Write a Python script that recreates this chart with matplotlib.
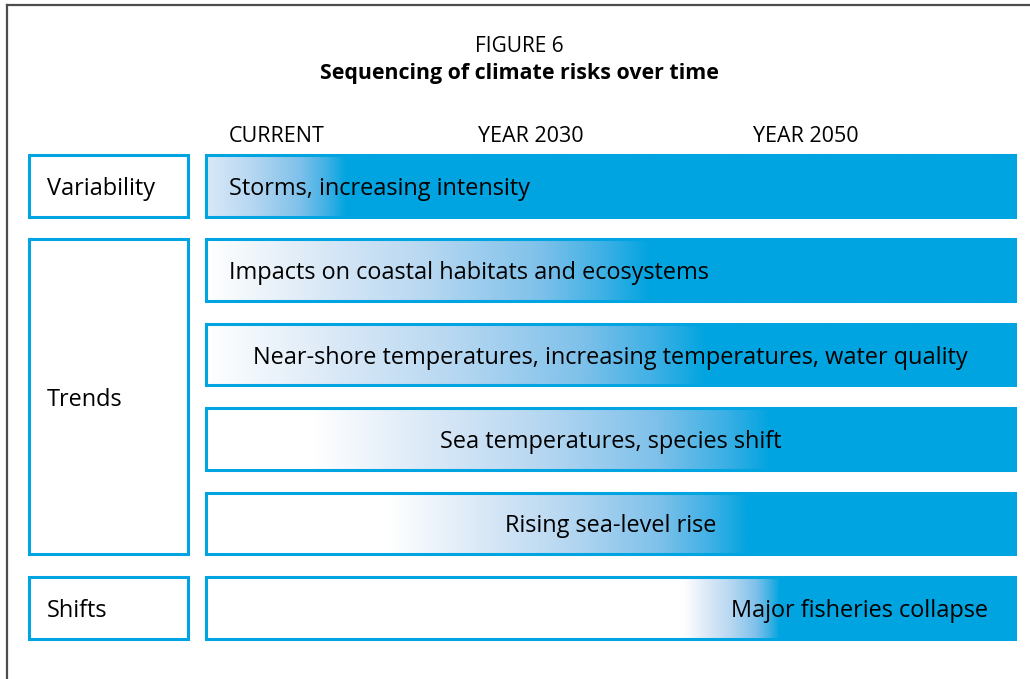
import numpy as np
import matplotlib
matplotlib.use("Agg")
import matplotlib.pyplot as plt
from matplotlib.colors import LinearSegmentedColormap
from matplotlib.patches import Rectangle

plt.rcParams['font.family'] = ['Open Sans', 'DejaVu Sans']

title_top = "FIGURE 6"
title_main = "Sequencing of climate risks over time"
time_labels = ["CURRENT", "YEAR 2030", "YEAR 2050"]
time_label_x = [277, 531, 806]

groups = ["Variability", "Trends", "Shifts"]
group_rows = [[0], [1, 2, 3, 4], [5]]

risks = [
    "Storms, increasing intensity",
    "Impacts on coastal habitats and ecosystems",
    "Near-shore temperatures, increasing temperatures, water quality",
    "Sea temperatures, species shift",
    "Rising sea-level rise",
    "Major fisheries collapse",
]
# gradient fade (fraction of bar width): where white starts fading and where full blue is reached
fade_start = [-0.06, 0.0, 0.0, 0.13, 0.224, 0.59]
fade_end = [0.174, 0.55, 0.62, 0.70, 0.672, 0.71]
text_align = ["left", "left", "center", "center", "center", "right"]

BLUE = "#00a4e0"
cmap = LinearSegmentedColormap.from_list(
    "fade", [(0.0, "#ffffff"), (0.25, "#dbe9f7"), (0.5, "#b6d7f1"),
             (0.75, "#7fc1ea"), (0.9, "#3cb0e5"), (1.0, BLUE)])

W, H = 1030, 679
fig = plt.figure(figsize=(W / 100, H / 100), dpi=100)
ax = fig.add_axes([0, 0, 1, 1])
ax.set_xlim(0, W)
ax.set_ylim(H, 0)
ax.axis("off")

# frame
ax.plot([7, 7], [H + 5, 5], color="#4d4d4d", lw=1.6, solid_capstyle="projecting")
ax.plot([7, W + 5], [5, 5], color="#4d4d4d", lw=1.6, solid_capstyle="projecting")

ax.text(519, 46, title_top, ha="center", va="center", fontsize=15, color="black")
ax.text(519, 73, title_main, ha="center", va="center", fontsize=15.4,
        fontweight="bold", color="black")

for lab, x in zip(time_labels, time_label_x):
    ax.text(x, 136, lab, ha="center", va="center", fontsize=15.5, color="black")

row_top0, row_h, row_gap = 155, 61.5, 22.9
bar_x0, bar_x1 = 206, 1015
box_x0, box_x1 = 29, 188


def row_top(i):
    return row_top0 + i * (row_h + row_gap)


npx = 800
xs = np.linspace(0, 1, npx)
for i, name in enumerate(risks):
    y0 = row_top(i)
    s, e = fade_start[i], fade_end[i]
    v = np.clip((xs - s) / (e - s), 0, 1)
    ax.imshow(v[None, :], cmap=cmap, vmin=0, vmax=1, aspect="auto",
              extent=[bar_x0, bar_x1, y0 + row_h, y0], interpolation="bilinear",
              zorder=1)
    ax.add_patch(Rectangle((bar_x0, y0), bar_x1 - bar_x0, row_h, fill=False,
                           edgecolor=BLUE, lw=2.2, zorder=2))
    if text_align[i] == "left":
        tx = bar_x0 + 23
    elif text_align[i] == "right":
        tx = bar_x1 - 27
    else:
        tx = (bar_x0 + bar_x1) / 2
    ax.text(tx, y0 + row_h / 2 + 3, name, ha=text_align[i], va="center",
            fontsize=16.9, color="black", zorder=3)

for g, rows in zip(groups, group_rows):
    y0 = row_top(rows[0])
    y1 = row_top(rows[-1]) + row_h
    ax.add_patch(Rectangle((box_x0, y0), box_x1 - box_x0, y1 - y0, fill=False,
                           edgecolor=BLUE, lw=2.2, zorder=2))
    ax.text(box_x0 + 18, (y0 + y1) / 2 + 3, g, ha="left", va="center",
            fontsize=16.9, color="black", zorder=3)

fig.savefig("out.png", dpi=100)
